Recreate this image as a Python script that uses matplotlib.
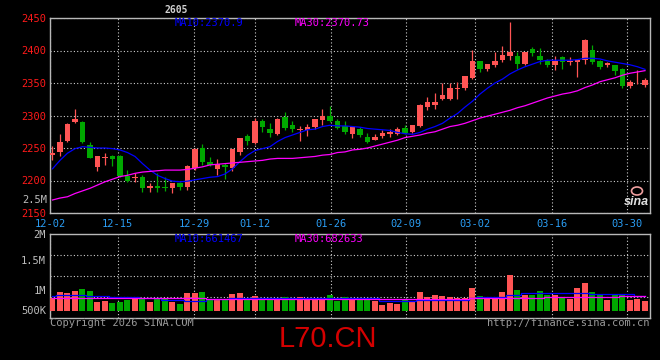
import numpy as np
import matplotlib
matplotlib.use('Agg')
import matplotlib.pyplot as plt
from matplotlib.ticker import FixedLocator
from matplotlib.patches import Ellipse

plt.rcParams['font.family'] = ['DejaVu Sans Mono']
plt.rcParams['font.size'] = 7

# daily candles, 12-02 .. 04-01
opens = [2239, 2244, 2261, 2290, 2290, 2255, 2221, 2234, 2237, 2237,
         2207, 2204, 2206, 2189, 2192, 2190, 2188, 2196, 2190, 2219,
         2250, 2229, 2218, 2224, 2219, 2244, 2269, 2258, 2292, 2279,
         2271, 2298, 2285, 2277, 2278, 2283, 2293, 2299, 2292, 2284,
         2271, 2280, 2267, 2263, 2269, 2272, 2272, 2281, 2274, 2284,
         2313, 2316, 2326, 2325, 2341, 2343, 2357, 2384, 2372, 2378,
         2385, 2392, 2391, 2379, 2402, 2391, 2384, 2378, 2390, 2383,
         2383, 2386, 2401, 2384, 2378, 2377, 2371, 2346, 2351, 2347]
highs = [2253, 2271, 2288, 2310, 2291, 2259, 2237, 2242, 2239, 2239,
         2216, 2211, 2209, 2196, 2211, 2205, 2196, 2198, 2224, 2250,
         2256, 2236, 2233, 2227, 2249, 2266, 2271, 2296, 2295, 2288,
         2296, 2305, 2291, 2284, 2287, 2295, 2310, 2314, 2295, 2292,
         2282, 2282, 2273, 2272, 2278, 2279, 2283, 2285, 2286, 2318,
         2329, 2335, 2350, 2350, 2352, 2361, 2401, 2384, 2380, 2397,
         2407, 2444, 2397, 2397, 2405, 2404, 2387, 2392, 2392, 2390,
         2387, 2417, 2408, 2385, 2383, 2378, 2373, 2355, 2370, 2357]
lows = [2231, 2237, 2259, 2288, 2258, 2234, 2214, 2224, 2223, 2205,
        2198, 2197, 2183, 2182, 2183, 2184, 2181, 2185, 2186, 2216,
        2224, 2223, 2209, 2202, 2215, 2239, 2255, 2256, 2275, 2267,
        2270, 2278, 2274, 2261, 2269, 2280, 2285, 2290, 2280, 2271,
        2265, 2267, 2257, 2262, 2265, 2267, 2270, 2271, 2273, 2283,
        2309, 2310, 2324, 2324, 2326, 2339, 2356, 2367, 2368, 2375,
        2383, 2385, 2372, 2378, 2392, 2379, 2374, 2370, 2372, 2377,
        2360, 2380, 2379, 2371, 2374, 2362, 2343, 2342, 2349, 2344]
closes = [2242, 2259, 2287, 2295, 2260, 2235, 2237, 2236, 2233, 2207,
          2199, 2206, 2189, 2192, 2188, 2188, 2196, 2190, 2222, 2249,
          2229, 2224, 2225, 2221, 2249, 2266, 2261, 2291, 2283, 2273,
          2295, 2281, 2280, 2280, 2282, 2295, 2299, 2292, 2281, 2274,
          2282, 2270, 2260, 2267, 2273, 2274, 2279, 2273, 2285, 2316,
          2321, 2321, 2332, 2342, 2343, 2361, 2384, 2372, 2379, 2384,
          2393, 2397, 2380, 2397, 2396, 2385, 2378, 2384, 2382, 2384,
          2386, 2416, 2383, 2375, 2380, 2369, 2345, 2352, 2352, 2355]

ma10 = [2218, 2231, 2242, 2249, 2252, 2251, 2250, 2250, 2249, 2247,
        2243, 2237, 2226, 2216, 2208, 2203, 2199, 2198, 2199, 2201,
        2203, 2205, 2206, 2210, 2218, 2229, 2239, 2246, 2249, 2252,
        2260, 2266, 2270, 2274, 2278, 2279, 2283, 2285, 2284, 2284,
        2283, 2282, 2280, 2279, 2278, 2277, 2274, 2272, 2271, 2274,
        2279, 2283, 2288, 2296, 2303, 2313, 2322, 2333, 2342, 2350,
        2356, 2364, 2370, 2375, 2379, 2383, 2385, 2385, 2385, 2385,
        2386, 2388, 2388, 2387, 2384, 2382, 2380, 2378, 2375, 2371]
ma30 = [2170, 2173, 2175, 2180, 2184, 2188, 2193, 2198, 2202, 2206,
        2208, 2211, 2213, 2214, 2215, 2216, 2216, 2216, 2217, 2219,
        2221, 2224, 2225, 2226, 2227, 2228, 2229, 2230, 2231, 2233,
        2234, 2234, 2234, 2235, 2236, 2237, 2239, 2240, 2243, 2244,
        2247, 2248, 2250, 2253, 2256, 2259, 2262, 2266, 2268, 2270,
        2273, 2275, 2279, 2283, 2285, 2288, 2292, 2296, 2299, 2302,
        2305, 2308, 2312, 2315, 2319, 2323, 2327, 2330, 2333, 2335,
        2338, 2343, 2347, 2352, 2355, 2358, 2362, 2365, 2367, 2369]

# volume in thousands (as drawn by the chart)
volume = [530, 804, 745, 847, 933, 847, 387, 430, 344, 387,
          460, 516, 530, 387, 530, 530, 387, 288, 774, 774,
          817, 487, 487, 487, 718, 774, 530, 645, 530, 530,
          487, 573, 460, 573, 460, 460, 530, 675, 430, 573,
          530, 460, 530, 430, 245, 314, 288, 460, 430, 804,
          573, 675, 632, 573, 530, 530, 989, 632, 573, 573,
          804, 1535, 890, 675, 675, 847, 675, 675, 573, 487,
          959, 1174, 804, 675, 460, 675, 701, 460, 487, 430]
vol_ma10 = [631, 674, 674, 674, 674, 645, 645, 645, 602, 573,
            573, 573, 530, 530, 530, 459, 459, 459, 430, 430,
            430, 487, 487, 487, 530, 530, 530, 530, 530, 530,
            530, 559, 559, 559, 559, 559, 559, 559, 530, 530,
            530, 530, 530, 530, 430, 430, 430, 430, 430, 459,
            459, 459, 459, 459, 459, 459, 530, 602, 602, 602,
            602, 674, 674, 745, 745, 745, 745, 745, 745, 745,
            745, 745, 702, 702, 702, 702, 702, 702, 645, 645]
vol_ma30 = [530, 530, 530, 530, 530, 530, 530, 530, 530, 530,
            530, 530, 530, 530, 530, 530, 530, 530, 530, 530,
            530, 516, 516, 516, 516, 516, 516, 516, 516, 516,
            516, 516, 516, 516, 516, 516, 516, 516, 516, 516,
            516, 487, 487, 487, 487, 487, 487, 487, 487, 487,
            487, 487, 487, 487, 487, 487, 530, 530, 530, 530,
            530, 530, 530, 530, 530, 530, 573, 573, 573, 573,
            573, 573, 573, 573, 573, 573, 631, 631, 631, 631]

date_labels = ['12-02', '12-15', '12-29', '01-12', '01-26', '02-09', '03-02', '03-16', '03-30']
date_pos = [-0.33, 8.7, 18.9, 27.0, 37.1, 47.1, 56.4, 66.6, 76.6]
price_ticks = [2150, 2200, 2250, 2300, 2350, 2400, 2450]
vol_tick_vals = [3285, 2180, 890, 30]
vol_tick_labels = ['2M', '1.5M', '1M', '500K']

UP = '#ff5454'
DOWN = '#00a800'
GRID = '#cfcfcf'
BORDER = '#b8b8b8'

x = np.arange(len(closes))
o = np.array(opens)
c = np.array(closes)
up = c >= o
colors = np.where(up, UP, DOWN)

fig = plt.figure(figsize=(6.6, 3.6), dpi=100, facecolor='black')
ax = fig.add_axes([50 / 660, 1 - 213 / 360, 600 / 660, 195 / 360], facecolor='black')
axv = fig.add_axes([50 / 660, 1 - 318.3 / 360, 600 / 660, 84 / 360], facecolor='black')

# candles
ax.vlines(x, lows, highs, colors=colors, linewidth=0.9, zorder=3)
body = np.maximum(np.abs(c - o), 1.2)
ax.bar(x, body, bottom=np.minimum(o, c), width=0.78, color=colors, zorder=4)
ax.plot(x, ma10, color='#0000ff', linewidth=0.9, zorder=5)
ax.plot(x, ma30, color='#ff00ff', linewidth=0.9, zorder=5)

ax.set_xlim(-0.333, 79.667)
ax.set_ylim(2150, 2450)
ax.set_yticks(price_ticks)
ax.set_xticks(date_pos, date_labels)
ax.tick_params(axis='y', length=0, pad=3, labelcolor='#ff1a1a', labelsize=7.5)
ax.tick_params(axis='x', length=0, pad=4, labelcolor='#2a9df4', labelsize=7.5)
ax.grid(True, color=GRID, linestyle=(0, (1, 2)), linewidth=0.8)
for s in ax.spines.values():
    s.set_color(BORDER)
    s.set_linewidth(1)
ax.text(-0.005, 2170, '2.5M', transform=ax.get_yaxis_transform(), ha='right', va='center',
        color='#bdbdbd', fontsize=7.5)

# volume
axv.bar(x, volume, width=0.8, color=colors, zorder=3)
axv.step(x, vol_ma10, where='mid', color='#0000ff', linewidth=0.9, zorder=4)
axv.step(x, vol_ma30, where='mid', color='#ff00ff', linewidth=0.9, zorder=4)
axv.set_xlim(-0.333, 79.667)
axv.set_ylim(-327, 3285)
axv.set_xticks(date_pos)
axv.set_xticklabels([])
axv.set_yticks(vol_tick_vals, vol_tick_labels)
axv.yaxis.set_minor_locator(FixedLocator(np.linspace(-327, 3285, 5)[1:-1]))
axv.tick_params(axis='both', which='both', length=0)
axv.tick_params(axis='y', pad=3, labelcolor='#bdbdbd', labelsize=7.5)
axv.grid(True, axis='x', color=GRID, linestyle=(0, (1, 2)), linewidth=0.8)
axv.grid(True, axis='y', which='minor', color=GRID, linestyle=(0, (1, 2)), linewidth=0.8)
for s in axv.spines.values():
    s.set_color(BORDER)
    s.set_linewidth(1)

# labels
fig.text(175 / 660, 1 - 23 / 360, 'MA10:%.1f' % 2370.9, color='#0000ff', va='center', fontsize=7.5)
fig.text(295 / 660, 1 - 23 / 360, 'MA30:%.2f' % 2370.73, color='#ff00ff', va='center', fontsize=7.5)
fig.text(175 / 660, 1 - 239 / 360, 'MA10:661467', color='#0000ff', va='center', fontsize=7.5)
fig.text(295 / 660, 1 - 239 / 360, 'MA30:682633', color='#ff00ff', va='center', fontsize=7.5)
fig.text(176 / 660, 1 - 10 / 360, '2605', color='#d0d0d0', ha='center', va='center',
         fontsize=7, fontweight='bold')
fig.text(50 / 660, 1 - 323 / 360, 'Copyright 2026 SINA.COM', color='#9a9a9a', va='center', fontsize=7.5)
fig.text(650 / 660, 1 - 323 / 360, 'http://finance.sina.com.cn', color='#9a9a9a', ha='right',
         va='center', fontsize=7.5)
fig.text(328 / 660, 1 - 339 / 360, 'L70.CN', color='#d40000', ha='center', va='center',
         fontsize=21, family='Liberation Sans')

# sina watermark logo
fig.text(636 / 660, 1 - 202 / 360, 'sina', color='#e0e0e0', ha='center', va='center',
         fontsize=9, fontweight='bold', style='italic', family='Liberation Sans')
fig.patches.append(Ellipse((637 / 660, 1 - 191 / 360), 11 / 660, 8 / 360, transform=fig.transFigure,
                           facecolor='none', edgecolor='#f0a0a0', linewidth=1.2))

fig.savefig('out.png', dpi=100, facecolor='black')
